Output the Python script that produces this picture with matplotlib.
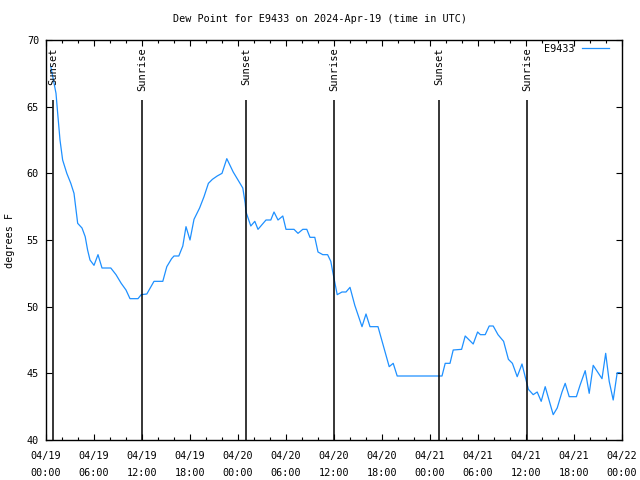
import matplotlib
matplotlib.use('Agg')
import matplotlib.pyplot as plt

# hours since 2024-04-19 00:00 UTC, dew point in F
hours = [0.6, 1.25, 1.46, 1.75, 2.08, 2.6, 3.1, 3.5, 3.96, 4.5, 4.9, 5.2, 5.5, 6.0, 6.5, 7.0,
         8.1, 8.75, 9.4, 10.0, 10.5, 11.5, 11.9, 12.6, 13.5, 14.6, 15.1, 15.7, 16.0, 16.6,
         17.1, 17.5, 18.0, 18.5, 19.2, 19.75, 20.3, 20.8, 21.4, 22.0, 22.6, 23.4, 24.25,
         24.6, 24.9, 25.0, 25.2, 25.6, 26.1, 26.5, 27.5, 28.1, 28.5, 29.0, 29.6, 30.0,
         31.0, 31.5, 32.1, 32.6, 33.0, 33.6, 34.0, 34.6, 35.2, 35.6, 35.8, 36.4, 37.0,
         37.5, 38.0, 38.6, 39.5, 40.0, 40.5, 41.5, 42.2, 42.9, 43.4, 43.9, 49.5, 49.9,
         50.5, 50.9, 51.95, 52.4, 53.4, 53.95, 54.3, 54.9, 55.4, 55.9, 56.5, 57.2, 57.8,
         58.3, 58.9, 59.5, 59.75, 60.3, 60.9, 61.4, 61.9, 62.4, 63.4, 63.9, 64.5, 64.9,
         65.4, 66.3, 66.75, 67.4, 67.9, 68.4, 69.5, 69.96, 70.4, 70.9, 71.4, 71.75]
dewpoint = [68.0, 66.0, 64.5, 62.5, 61.0, 60.0, 59.25, 58.5, 56.25, 55.9, 55.25, 54.25, 53.5,
            53.1, 53.9, 52.9, 52.9, 52.4, 51.75, 51.25, 50.6, 50.6, 50.9, 50.95, 51.9, 51.9,
            53.0, 53.6, 53.8, 53.8, 54.55, 56.0, 55.0, 56.55, 57.4, 58.25, 59.25, 59.55,
            59.8, 60.0, 61.1, 60.1, 59.25, 58.9, 57.75, 57.1, 56.75, 56.05, 56.4, 55.8,
            56.5, 56.5, 57.1, 56.5, 56.8, 55.8, 55.8, 55.5, 55.8, 55.8, 55.2, 55.2, 54.1,
            53.9, 53.9, 53.4, 52.75, 50.9, 51.1, 51.1, 51.45, 50.1, 48.5, 49.45, 48.5, 48.5,
            47.0, 45.5, 45.75, 44.8, 44.8, 45.75, 45.75, 46.75, 46.8, 47.8, 47.2, 48.1, 47.9,
            47.9, 48.55, 48.55, 47.9, 47.4, 46.05, 45.75, 44.75, 45.7, 45.1, 43.8, 43.4,
            43.6, 42.9, 44.0, 41.9, 42.4, 43.6, 44.25, 43.25, 43.25, 44.1, 45.2, 43.5, 45.6,
            44.6, 46.5, 44.4, 43.0, 45.05, 45.05]

sun_hours = [0.9, 12.0, 25.0, 36.0, 49.1, 60.1]
sun_labels = ['Sunset', 'Sunrise', 'Sunset', 'Sunrise', 'Sunset', 'Sunrise']

xtick_hours = list(range(0, 73, 6))
xtick_labels = ['04/19\n00:00', '04/19\n06:00', '04/19\n12:00', '04/19\n18:00',
                '04/20\n00:00', '04/20\n06:00', '04/20\n12:00', '04/20\n18:00',
                '04/21\n00:00', '04/21\n06:00', '04/21\n12:00', '04/21\n18:00',
                '04/22\n00:00']
yticks = [40, 45, 50, 55, 60, 65, 70]

plt.rcParams['font.family'] = ['DejaVu Sans Mono']
plt.rcParams['font.size'] = 7.3

fig = plt.figure(figsize=(6.4, 4.8), dpi=100)
ax = fig.add_axes([46 / 640, 40 / 480, 576 / 640, 400 / 480])

ax.plot(hours, dewpoint, color='#1e90ff', lw=0.9, label='E9433')

for h, lab in zip(sun_hours, sun_labels):
    ax.vlines(h, 40, 65.5, color='black', lw=1.1)
    ax.text(h, 69.45, lab, rotation=90, ha='center', va='top', fontsize=7.5)

ax.set_xlim(0, 72)
ax.set_ylim(40, 70)
ax.set_xticks(xtick_hours)
ax.set_xticklabels(xtick_labels, linespacing=1.85)
ax.set_xticks(range(0, 73, 2), minor=True)
ax.set_yticks(yticks)
ax.tick_params(which='both', direction='in', top=True, right=True, width=0.8)
ax.tick_params(which='major', length=4)
ax.tick_params(which='minor', length=2.2)
ax.tick_params(axis='x', which='major', pad=8)
ax.tick_params(axis='y', which='major', pad=5)
for s in ax.spines.values():
    s.set_linewidth(1.0)

ax.legend(loc='upper right', bbox_to_anchor=(563 / 576, 1 - 4 / 400), frameon=False,
          markerfirst=False, handlelength=2.7, borderaxespad=0, borderpad=0,
          handletextpad=0.7, fontsize=7.3)

fig.text(0.5, 1 - 19 / 480, 'Dew Point for E9433 on 2024-Apr-19 (time in UTC)',
         ha='center', va='center', fontsize=7.3)
fig.text(10 / 640, 0.5, 'degrees F', rotation=90, ha='center', va='center', fontsize=7.3)

fig.savefig('out.png', dpi=100)
